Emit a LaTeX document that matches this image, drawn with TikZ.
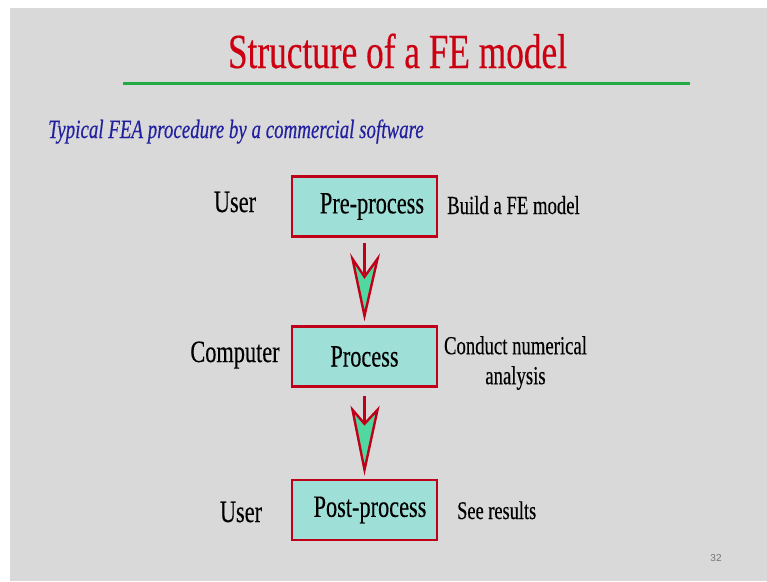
\documentclass[tikz,border=0pt]{standalone}
\usepackage{fontspec}
\setmainfont{Liberation Serif}[FakeStretch=0.72, FakeBold=0.3]
\newfontfamily\numfont{Liberation Sans}
\usetikzlibrary{calc}

\definecolor{slidegray}{HTML}{D9D9D9}
\definecolor{titlered}{HTML}{CC0010}
\definecolor{rulegreen}{HTML}{22AA44}
\definecolor{subblue}{HTML}{2020A0}
\definecolor{boxfill}{HTML}{9EE0D8}
\definecolor{boxline}{HTML}{C00018}
\definecolor{headfill}{HTML}{50D8A0}

\tikzset{
  stepbox/.style={draw=boxline, line width=2.6pt, fill=boxfill,
    minimum width=145pt, minimum height=60pt, inner sep=0pt,
    font=\fontsize{31}{36}\selectfont},
  actor/.style={anchor=base, font=\fontsize{31}{36}\selectfont},
  note/.style={anchor=base west, inner sep=0pt, font=\fontsize{26}{30}\selectfont},
  shaft/.style={draw=boxline, line width=2.2pt},
  barbhead/.style={draw=boxline, fill=headfill, line width=2.4pt, line join=miter}
}

\begin{document}
\begin{tikzpicture}[x=1pt, y=-1pt]
  % page and slide area
  \fill[white] (0,0) rectangle (767,581);
  \fill[slidegray] (10,8) rectangle (767,581);
  \useasboundingbox (0,0) rectangle (767,581);

  % heading
  \node[anchor=base, text=titlered, font=\fontsize{49}{56}\selectfont]
    (title) at (397.5,68) {Structure of a FE model};
  \draw[rulegreen, line width=3pt] (123,83) coordinate (rl) -- (690,83) coordinate (rr);

  \node[anchor=base west, inner sep=0pt, text=subblue, font=\fontsize{26.3}{30}\selectfont\itshape]
    (sub) at (48,138) {Typical FEA procedure by a commercial software};

  % the three stages
  \node[stepbox] (pre)  at (364.5,206.5) {\hspace*{15pt}Pre-process};
  \node[stepbox] (proc) at (364.5,356.5) {Process};
  \node[stepbox] (post) at (364.5,510)   {\hspace*{11pt}Post-process};

  % who does each stage
  \node[actor] (u1) at (235,212) {User};
  \node[actor] (cp) at (235,362) {Computer};
  \node[actor] (u2) at (241,522) {User};

  % what each stage does
  \node[note] (d1) at (447,214) {Build a FE model};
  \node[anchor=center, align=center, font=\fontsize{26}{30}\selectfont]
    (d2) at (515.5,363) {Conduct numerical\\analysis};
  \node[note, font=\fontsize{25.5}{30}\selectfont] (d3) at (457,519) {See results};

  % arrows between stages
  \coordinate (a1) at ($(pre.south)+(0,5)$);
  \draw[shaft] (a1) -- ($(a1)+(0,31)$);
  \filldraw[barbhead] ($(a1)+(-12,16)$) -- ($(a1)+(0,73)$) -- ($(a1)+(13,16)$)
    -- ($(a1)+(0,34)$) -- cycle;

  \coordinate (a2) at ($(proc.south)+(0,8)$);
  \draw[shaft] (a2) -- ($(a2)+(0,27)$);
  \filldraw[barbhead] ($(a2)+(-12,14)$) -- ($(a2)+(0,74)$) -- ($(a2)+(13,14)$)
    -- ($(a2)+(0,28)$) -- cycle;

  % slide number
  \node[anchor=base, text=black!55, font=\numfont\fontsize{10}{12}\selectfont]
    (pg) at (716,561) {32};
\end{tikzpicture}
\end{document}
